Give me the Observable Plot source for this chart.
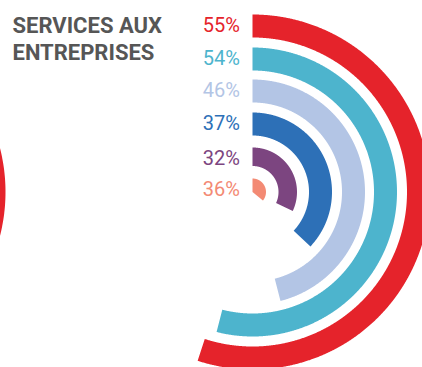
<!DOCTYPE html>
<html>
<head>
<meta charset="utf-8">
<script src="https://cdn.jsdelivr.net/npm/d3@7"></script>
<script src="https://cdn.jsdelivr.net/npm/@observablehq/plot@0.6"></script>
<style>
  html, body { margin: 0; padding: 0; background: #fff; overflow: hidden; }
  #chart svg { display: block; }
</style>
</head>
<body>
<div id="chart"></div>
<script>
// ---- data ----
const title = "SERVICES AUX\nENTREPRISES";
const ringLabels = ["55%", "54%", "46%", "37%", "32%", "36%"];
const ringValues = [55, 54, 46, 37, 32, 36];
const ringColors = ["#e5232b", "#4db4cd", "#b3c5e5", "#2d70b7", "#7c4580", "#f38a74"];
// outer ring of the neighbouring chart, only a sliver of which shows at the left edge (value not readable)
const neighborValue = 50;
const neighborColor = "#e5232b";

// ---- layout ----
const W = 422, H = 367;
const CX = 252, CY = 191.5;
const OUTER = [177.5, 144.5, 112.5, 79.5, 44.5, 13.5];
const INNER = [154.5, 121.5, 89.5, 56.5, 26, 0];
const NEIGHBOR_DX = -424.5;
const LABEL_GAP = 12.5;
const LABEL_INSET = 11;

function ringPolygon(key, value, r0, r1, dx) {
  const a = value / 100 * 2 * Math.PI;
  const n = Math.max(4, Math.ceil(value / 100 * 1440));
  const pts = [];
  for (let i = 0; i <= n; i++) {
    const t = a * i / n;
    pts.push({key, x: dx + r1 * Math.sin(t), y: r1 * Math.cos(t)});
  }
  if (r0 > 0) {
    for (let i = n; i >= 0; i--) {
      const t = a * i / n;
      pts.push({key, x: dx + r0 * Math.sin(t), y: r0 * Math.cos(t)});
    }
  } else {
    pts.push({key, x: dx, y: 0});
  }
  return pts;
}

const ringPoints = ringLabels.flatMap((k, i) => ringPolygon(k, ringValues[i], INNER[i], OUTER[i], 0));
const neighborPoints = ringPolygon("neighbor", neighborValue, INNER[0], OUTER[0], NEIGHBOR_DX);

const chart = Plot.plot({
  width: W,
  height: H,
  margin: 0,
  style: {fontFamily: "Roboto, 'Noto Sans', sans-serif", background: "#fff", overflow: "hidden"},
  x: {domain: [-CX, W - CX], range: [0, W], axis: null},
  y: {domain: [CY - H, CY], range: [H, 0], axis: null},
  color: {domain: ringLabels, range: ringColors},
  marks: [
    Plot.line(neighborPoints, {x: "x", y: "y", fill: neighborColor, stroke: "none", curve: "linear-closed", clip: true}),
    Plot.line(ringPoints, {x: "x", y: "y", z: "key", fill: "key", stroke: "none", curve: "linear-closed", clip: true}),
    Plot.text(ringLabels, {
      x: () => -LABEL_GAP,
      y: (d, i) => OUTER[i] - LABEL_INSET,
      text: d => d,
      fill: d => d,
      textAnchor: "end",
      fontSize: 20
    }),
    Plot.text([title], {
      frameAnchor: "top-left",
      dx: 12, dy: 13.5,
      lineAnchor: "top",
      lineHeight: 1.21,
      text: d => d,
      fill: "#565656",
      fontSize: 22,
      fontWeight: "bold"
    })
  ]
});
document.getElementById("chart").append(chart);
</script>
</body>
</html>
